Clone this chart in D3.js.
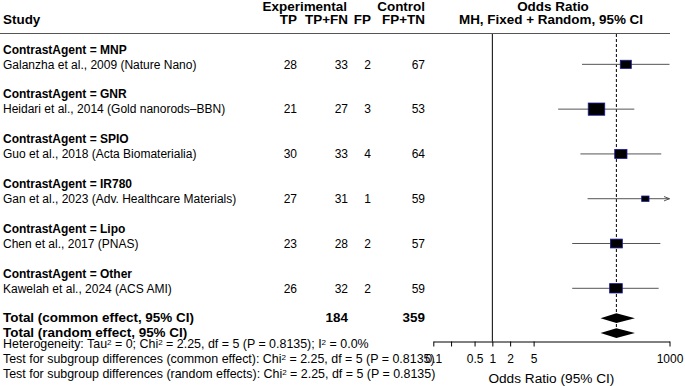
<!DOCTYPE html>
<html>
<head>
<meta charset="utf-8">
<script src="https://cdn.jsdelivr.net/npm/d3@7"></script>
<style>
  body { margin: 0; background: #fff; }
  svg { display: block; font-family: "Liberation Sans", Arial, Helvetica, sans-serif; }
</style>
</head>
<body>
<svg id="forest"></svg>
<script>
// forest plot, contrast agents (MH odds ratio)
const groups = ["MNP", "GNR", "SPIO", "IR780", "Lipo", "Other"];
const studies = [
  "Galanzha et al., 2009 (Nature Nano)",
  "Heidari et al., 2014 (Gold nanorods\u2013BBN)",
  "Guo et al., 2018 (Acta Biomaterialia)",
  "Gan et al., 2023 (Adv. Healthcare Materials)",
  "Chen et al., 2017 (PNAS)",
  "Kawelah et al., 2024 (ACS AMI)"
];
const tp = [28, 21, 30, 27, 23, 26];
const tpfn = [33, 27, 33, 31, 28, 32];
const fp = [2, 3, 4, 1, 2, 2];
const fptn = [67, 53, 64, 59, 57, 59];

// odds ratios + 95% CI
const oddsRatio = [182, 58, 150, 390, 126, 124];
const ciLower = [33, 13, 31, 41, 22.5, 22.5];
const ciUpper = [1000, 254, 725, 3000, 700, 655];
const weights = [13.5, 30.3, 16.7, 6.0, 15.9, 17.8];

const pooledLabels = ["Total (common effect, 95% CI)", "Total (random effect, 95% CI)"];
const pooledOR = [126, 126];
const pooledLower = [68, 68];
const pooledUpper = [260, 260];
const totalTPFN = 184;
const totalFPTN = 359;

const axisTicks = [0.1, 0.2, 0.5, 1, 2, 5, 1000];
const axisTickLabels = ["0.1", "", "0.5", "1", "2", "5", "1000"];

const width = 685, height = 386;
const svg = d3.select("#forest").attr("width", width).attr("height", height);

const x = d3.scaleLog().domain([0.1, 1000]).range([433.3, 669.5]);
// one text line = one unit
const y = d3.scaleLinear().domain([0, 22]).range([49.4, 377.9]);

const fs = 12;
const wide = 1.12; // bold headers/totals look stretched sideways
const cols = [
  { key: "TP", right: 297, vals: tp },
  { key: "TP+FN", right: 348, vals: tpfn },
  { key: "FP", right: 371, vals: fp },
  { key: "FP+TN", right: 425, vals: fptn }
];

function stretch(sel, k) {
  sel.each(function () {
    const w = this.getComputedTextLength();
    d3.select(this).attr("textLength", w * k).attr("lengthAdjust", "spacingAndGlyphs");
  });
  return sel;
}

// header
const hdr = svg.append("g").attr("font-weight", "bold").attr("font-size", fs);
const yH1 = 6.5, yH2 = 19.5;
hdr.append("text").attr("x", 3).attr("y", yH2).attr("dy", "0.35em").text("Study");
hdr.append("text").attr("x", 347).attr("y", yH1).attr("dy", "0.35em").attr("text-anchor", "end").text("Experimental");
hdr.append("text").attr("x", 425).attr("y", yH1).attr("dy", "0.35em").attr("text-anchor", "end").text("Control");
cols.forEach(c => {
  hdr.append("text").attr("x", c.right).attr("y", yH2).attr("dy", "0.35em")
    .attr("text-anchor", "end").text(c.key);
});
hdr.append("text").attr("x", 553).attr("y", yH1).attr("dy", "0.35em").attr("text-anchor", "middle").text("Odds Ratio");
hdr.append("text").attr("x", 551).attr("y", yH2).attr("dy", "0.35em").attr("text-anchor", "middle").text("MH, Fixed + Random, 95% CI");
stretch(hdr.selectAll("text"), wide);

svg.append("line").attr("x1", 0).attr("x2", 670).attr("y1", 33.5).attr("y2", 33.5)
  .attr("stroke", "#555").attr("stroke-width", 1);

// reference lines
svg.append("line").attr("x1", x(1)).attr("x2", x(1)).attr("y1", 34).attr("y2", 341.5)
  .attr("stroke", "#000").attr("stroke-width", 1);
svg.append("line").attr("x1", x(pooledOR[0])).attr("x2", x(pooledOR[0])).attr("y1", 34).attr("y2", 337)
  .attr("stroke", "#000").attr("stroke-width", 1).attr("stroke-dasharray", "3 2");

// group + study rows
const rows = svg.append("g").attr("font-size", fs);
groups.forEach((g, i) => {
  rows.append("text").attr("x", 3).attr("y", y(i * 3)).attr("dy", "0.35em")
    .attr("font-weight", "bold").text("ContrastAgent = " + g);
  rows.append("text").attr("x", 3).attr("y", y(i * 3 + 1)).attr("dy", "0.35em").text(studies[i]);
  cols.forEach(c => {
    rows.append("text").attr("x", c.right).attr("y", y(i * 3 + 1)).attr("dy", "0.35em")
      .attr("text-anchor", "end").text(c.vals[i]);
  });
});

svg.append("defs").append("marker")
  .attr("id", "arr").attr("viewBox", "0 0 10 10").attr("refX", 10).attr("refY", 5)
  .attr("markerWidth", 6).attr("markerHeight", 6).attr("orient", "auto")
  .append("path").attr("d", "M0,1 L10,5 L0,9").attr("fill", "none").attr("stroke", "#444").attr("stroke-width", 1.5);

const maxX = x.domain()[1];
const ci = svg.append("g");
studies.forEach((s, i) => {
  const yy = y(i * 3 + 1);
  const hi = Math.min(ciUpper[i], maxX);
  const l = ci.append("line").attr("x1", x(ciLower[i])).attr("x2", x(hi))
    .attr("y1", yy).attr("y2", yy).attr("stroke", "#555").attr("stroke-width", 1);
  if (ciUpper[i] > maxX) l.attr("marker-end", "url(#arr)");
  const side = Math.sqrt(weights[i]) * 3.0;
  ci.append("rect")
    .attr("x", x(oddsRatio[i]) - side / 2).attr("y", yy - side * 0.37)
    .attr("width", side).attr("height", side * 0.74)
    .attr("fill", "#000").attr("stroke", "#1c1c99").attr("stroke-width", 0.8);
});

// pooled rows
const tot = svg.append("g").attr("font-size", fs).attr("font-weight", "bold");
pooledLabels.forEach((lab, j) => {
  const yy = y(18 + j);
  tot.append("text").attr("x", 3).attr("y", yy).attr("dy", "0.35em").text(lab);
  const h = 4.8;
  svg.append("path")
    .attr("d", `M${x(pooledLower[j])},${yy} L${x(pooledOR[j])},${yy - h} L${x(pooledUpper[j])},${yy} L${x(pooledOR[j])},${yy + h} Z`)
    .attr("fill", "#000");
});
tot.append("text").attr("x", 348).attr("y", y(18)).attr("dy", "0.35em").attr("text-anchor", "end").text(totalTPFN);
tot.append("text").attr("x", 425).attr("y", y(18)).attr("dy", "0.35em").attr("text-anchor", "end").text(totalFPTN);
stretch(tot.selectAll("text"), wide);

// heterogeneity / tests
const small = 10;
const supShift = 3;
function statLine(line, parts) {
  const t = svg.append("text").attr("x", 3).attr("y", y(line)).attr("dy", "0.35em").attr("font-size", small);
  let up = false;
  parts.forEach(p => {
    if (typeof p === "string") {
      t.append("tspan").attr("dy", up ? supShift : 0).text(p);
      up = false;
    } else {
      t.append("tspan").attr("class", "sup").attr("dy", -supShift).text(p.s);
      up = true;
    }
  });
  return t;
}
const s1 = statLine(20, ["Heterogeneity: Tau", { s: "2" }, " = 0; Chi", { s: "2" }, " = 2.25, df = 5 (P = 0.8135); I", { s: "2" }, " = 0.0%"]);
const s2 = statLine(21, ["Test for subgroup differences (common effect): Chi", { s: "2" }, " = 2.25, df = 5 (P = 0.8135)"]);
const s3 = statLine(22, ["Test for subgroup differences (random effects): Chi", { s: "2" }, " = 2.25, df = 5 (P = 0.8135)"]);
svg.selectAll("tspan.sup").attr("font-size", small * 0.65);
// fit font so the test line ends where it does in the reference
const k = 432 / s2.node().getComputedTextLength();
[s1, s2, s3].forEach(s => s.attr("font-size", small * k));
svg.selectAll("tspan.sup").attr("font-size", small * k * 0.65);

// x axis
const axisY = 341.5;
const ax = svg.append("g").attr("transform", `translate(0,${axisY})`)
  .call(d3.axisBottom(x).tickValues(axisTicks).tickFormat((d, i) => axisTickLabels[i]).tickSize(5).tickSizeOuter(0));
ax.attr("font-family", null).attr("font-size", 12);
ax.select(".domain").attr("stroke", "#000");
ax.selectAll(".tick line").attr("stroke", "#000");
ax.selectAll(".tick text").attr("fill", "#000").attr("y", 13);

const xt = svg.append("text").attr("x", (x.range()[0] + x.range()[1]) / 2).attr("y", 379).attr("dy", "0.35em")
  .attr("text-anchor", "middle").attr("font-size", 12).text("Odds Ratio (95% CI)");
stretch(xt, 126 / xt.node().getComputedTextLength());
</script>
</body>
</html>
